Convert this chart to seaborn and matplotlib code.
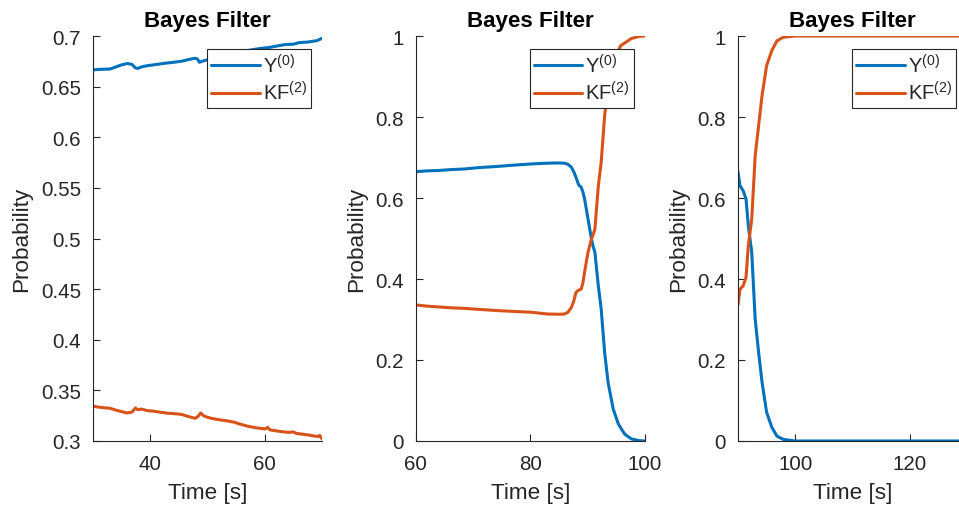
import matplotlib
matplotlib.use("Agg")
import matplotlib.pyplot as plt
import seaborn as sns
import pandas as pd

# ---- data: time [s] and class probabilities for three time windows ----
t1 = [30, 31, 32, 33, 34, 35, 36, 36.8, 37.4, 37.8, 38.5, 39.5, 41, 42.4, 44, 45.4,
      46.5, 47.7, 48.2, 48.6, 49.3, 50, 52, 54, 56.8, 59, 60.9, 62, 63.5, 65.1, 66,
      67.5, 69.1, 70]
y0_1 = [0.6665, 0.6670, 0.6672, 0.6674, 0.6695, 0.6715, 0.6728, 0.6720, 0.6685, 0.6680,
        0.6695, 0.6707, 0.6718, 0.6730, 0.6740, 0.6750, 0.6765, 0.6780, 0.6775, 0.6740,
        0.6755, 0.6765, 0.6790, 0.6820, 0.6855, 0.6875, 0.6888, 0.6900, 0.6915, 0.6920,
        0.6935, 0.6940, 0.6954, 0.6977]

t1k = [30, 31, 32, 33, 34, 35, 35.9, 36.8, 37.4, 37.8, 38.5, 39.5, 40.5, 41.9, 43, 44.8,
       45.5, 46.5, 47.8, 48.3, 48.8, 49.3, 50, 51, 52.4, 53.5, 54.7, 55.8, 57.1, 58.5,
       60.1, 60.5, 60.9, 62, 63, 64.2, 65, 65.5, 66.5, 67.7, 68.5, 69.3, 69.6, 70]
kf_1 = [0.3343, 0.3335, 0.3328, 0.3323, 0.3305, 0.3290, 0.3277, 0.3285, 0.3326, 0.3310,
        0.3315, 0.3300, 0.3295, 0.3283, 0.3275, 0.3267, 0.3262, 0.3245, 0.3224, 0.3240,
        0.3277, 0.3250, 0.3234, 0.3220, 0.3207, 0.3198, 0.3185, 0.3165, 0.3145, 0.3130,
        0.3119, 0.3135, 0.3110, 0.3100, 0.3092, 0.3085, 0.3090, 0.3075, 0.3068, 0.3059,
        0.3050, 0.3045, 0.3055, 0.3020]

t2 = [60, 62, 64, 66, 68.4, 71, 74.3, 77, 80.1, 83, 85, 86, 86.6, 87.2, 87.6, 88, 88.4,
      88.6, 88.9, 89.2, 89.5, 90.1, 90.7, 91.0, 91.3, 91.9, 92.4, 93.0, 93.6, 94.5, 95.4,
      96.5, 97.7, 99, 100]
y0_2 = [0.665, 0.667, 0.668, 0.670, 0.6716, 0.675, 0.678, 0.681, 0.684, 0.686, 0.6865,
        0.686, 0.683, 0.676, 0.665, 0.651, 0.635, 0.630, 0.627, 0.615, 0.598, 0.548,
        0.499, 0.480, 0.466, 0.383, 0.326, 0.219, 0.145, 0.079, 0.042, 0.017, 0.005,
        0.001, 0.0]

t2k = [60, 62, 64, 66, 68.4, 71, 74.3, 77, 80.1, 83, 85, 86, 86.6, 87.2, 87.6, 88, 88.4,
       88.9, 89.2, 89.5, 90.1, 90.7, 91.0, 91.3, 91.9, 92.4, 93.0, 93.6, 94.7, 95.8,
       97.7, 99, 100]
kf_2 = [0.336, 0.333, 0.331, 0.329, 0.3276, 0.325, 0.322, 0.320, 0.318, 0.3136, 0.3130,
        0.3136, 0.318, 0.330, 0.345, 0.367, 0.372, 0.375, 0.390, 0.417, 0.466, 0.499,
        0.510, 0.523, 0.630, 0.688, 0.803, 0.877, 0.943, 0.976, 0.994, 0.999, 1.0]

t3 = [90, 90.35, 90.9, 91.4, 91.8, 92.4, 93.0, 93.6, 94.2, 95.0, 95.9, 96.8, 97.9, 100,
      110, 120, 130]
y0_3 = [0.665, 0.630, 0.618, 0.598, 0.532, 0.466, 0.301, 0.219, 0.145, 0.071, 0.034,
        0.012, 0.004, 0.0, 0.0, 0.0, 0.0]
kf_3 = [0.336, 0.375, 0.383, 0.404, 0.482, 0.548, 0.704, 0.779, 0.853, 0.927, 0.964,
        0.988, 0.997, 1.0, 1.0, 1.0, 1.0]

series_labels = ["Y$^{(0)}$", "KF$^{(2)}$"]
xlims = [(30, 70), (60, 100), (90, 130)]
ylims = [(0.3, 0.7), (0, 1), (0, 1)]
xticks = [[40, 60], [60, 80, 100], [100, 120]]
yticks = [[0.3, 0.35, 0.4, 0.45, 0.5, 0.55, 0.6, 0.65, 0.7],
          [0, 0.2, 0.4, 0.6, 0.8, 1],
          [0, 0.2, 0.4, 0.6, 0.8, 1]]

panels = [
    (t1, y0_1, t1k, kf_1),
    (t2, y0_2, t2k, kf_2),
    (t3, y0_3, t3, kf_3),
]

BLUE = "#0072BD"
ORANGE = "#D95319"
DARK = "#262626"

sns.set_theme(style="ticks")
plt.rcParams["font.family"] = ["Liberation Sans", "DejaVu Sans"]
plt.rcParams["mathtext.default"] = "regular"
plt.rcParams.update({
    "xtick.direction": "in",
    "ytick.direction": "in",
    "xtick.color": DARK,
    "ytick.color": DARK,
    "xtick.labelcolor": DARK,
    "ytick.labelcolor": DARK,
    "axes.edgecolor": DARK,
    "axes.labelcolor": DARK,
})

fig = plt.figure(figsize=(9.59, 5.10), dpi=100)

lefts = [93, 415.7, 738]
W, H = 959.0, 510.0
ax_w = 229
ax_bottom = 442
ax_top = 37

for i, (ta, ya, tb, yb) in enumerate(panels):
    ax = fig.add_axes([lefts[i] / W, (H - ax_bottom) / H, ax_w / W, (ax_bottom - ax_top) / H])
    df = pd.concat([
        pd.DataFrame({"Time": ta, "Probability": ya, "series": series_labels[0]}),
        pd.DataFrame({"Time": tb, "Probability": yb, "series": series_labels[1]}),
    ])
    sns.lineplot(data=df, x="Time", y="Probability", hue="series",
                 palette=[BLUE, ORANGE], estimator=None, sort=False,
                 linewidth=2.2, ax=ax)
    ax.set_xlim(*xlims[i])
    ax.set_ylim(*ylims[i])
    ax.set_xticks(xticks[i])
    ax.set_yticks(yticks[i])
    ax.set_yticklabels([f"{v:g}" for v in yticks[i]])
    ax.tick_params(labelsize=14.8, length=5, width=0.8)
    ax.tick_params(axis="y", pad=8.6)
    ax.tick_params(axis="x", pad=9.3)
    for side in ("top", "right"):
        ax.spines[side].set_visible(False)
    for side in ("left", "bottom"):
        ax.spines[side].set_linewidth(0.8)
        ax.spines[side].set_color(DARK)
    ax.set_xlabel("Time [s]", fontsize=16.2, labelpad=6.5)
    ax.set_ylabel("Probability", fontsize=16.2, labelpad=6)
    ax.set_title("Bayes Filter", fontsize=16.1, fontweight="bold", color="black", pad=7)
    handles, labels = ax.get_legend_handles_labels()
    leg = ax.legend(handles, labels, loc="upper right",
                    bbox_to_anchor=(1 - 11 / ax_w, 1 - 13 / (ax_bottom - ax_top)),
                    borderaxespad=0, fontsize=14.5, frameon=True, fancybox=False,
                    handlelength=2.4, handletextpad=0.15, labelspacing=0.22,
                    borderpad=0.2, title=None)
    leg.get_frame().set_edgecolor(DARK)
    leg.get_frame().set_linewidth(0.8)
    leg.get_frame().set_alpha(1)
    for line in leg.get_lines():
        line.set_linewidth(2.2)

fig.savefig("out.png", dpi=100)
